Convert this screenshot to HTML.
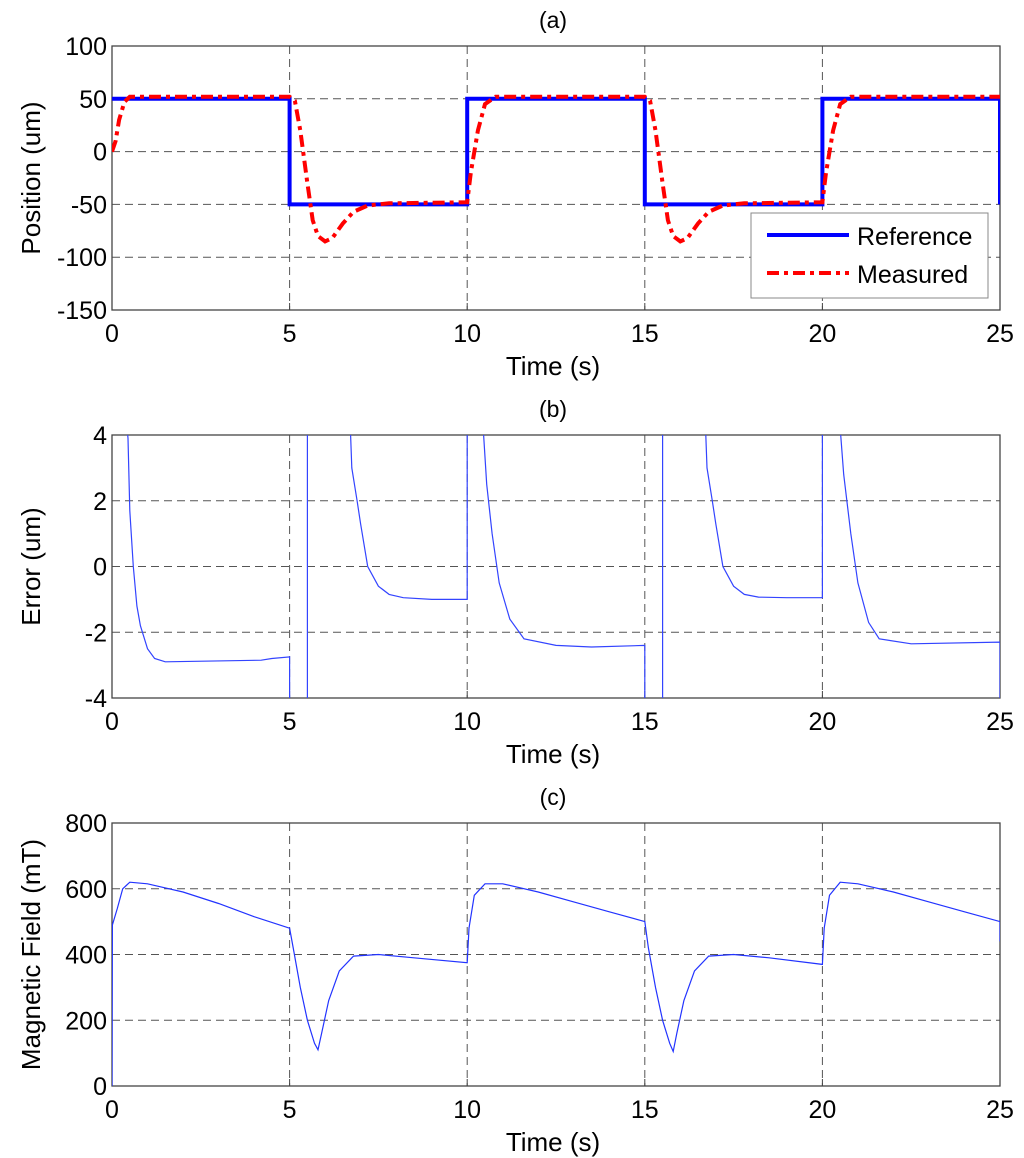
<!DOCTYPE html>
<html><head><meta charset="utf-8"><style>
body{margin:0;background:#fff;overflow:hidden;}
svg{display:block;font-family:"Liberation Sans",Arial,sans-serif;}
</style></head><body>
<svg id="fig" width="1024" height="1158" viewBox="0 0 1024 1158">
<defs>
<clipPath id="clipA"><rect x="112" y="46" width="888" height="264"/></clipPath>
<clipPath id="clipB"><rect x="112" y="435" width="888" height="263"/></clipPath>
<clipPath id="clipC"><rect x="112" y="823" width="888" height="263"/></clipPath>
</defs>
</svg>
<script>
// Panel (a) data
const refT = [0,5,5,10,10,15,15,20,20,25,25];
const refV = [50,50,-50,-50,50,50,-50,-50,50,50,-50];
const measT = [0,0.1,0.2,0.35,0.5,5.0,5.15,5.3,5.5,5.65,5.8,6.0,6.2,6.5,6.8,7.2,7.8,10.0,10.1,10.3,10.5,10.8,15.0,15.15,15.3,15.5,15.65,15.8,16.0,16.2,16.5,16.8,17.2,17.8,20.0,20.1,20.3,20.5,20.8,25];
const measV = [0,10,30,47,52,52,48,20,-30,-65,-80,-85,-82,-68,-57,-51,-49,-48,-20,20,45,52,52,48,20,-30,-65,-80,-85,-82,-68,-57,-51,-49,-48,-20,20,45,52,52];
// Panel (b) data
const errT = [0.4,0.45,0.5,0.6,0.7,0.8,1.0,1.2,1.5,4.2,4.5,5.0,5.0,5.5,5.5,6.7,6.75,6.9,7.0,7.2,7.5,7.8,8.2,9.0,10.0,10.0,10.45,10.55,10.7,10.9,11.2,11.6,12.5,13.5,15.0,15.0,15.5,15.5,16.7,16.75,16.9,17.0,17.2,17.5,17.8,18.2,19.0,20.0,20.0,20.5,20.6,20.8,21.0,21.3,21.6,22.5,25.0,25.0];
const errV = [4.5,3.9,1.7,0,-1.2,-1.8,-2.5,-2.8,-2.9,-2.85,-2.8,-2.75,-20,-20,20,4.5,3,2,1.3,0,-0.6,-0.85,-0.95,-1.0,-1.0,20,4.2,2.5,1,-0.5,-1.6,-2.2,-2.4,-2.45,-2.4,-20,-20,20,4.5,3,2,1.3,0,-0.6,-0.85,-0.93,-0.95,-0.95,20,4.2,2.8,1,-0.5,-1.7,-2.2,-2.35,-2.3,-20];
// Panel (c) data
const magT = [0,0.01,0.15,0.3,0.5,1.0,2,3,4,5.0,5.1,5.3,5.5,5.7,5.8,5.9,6.1,6.4,6.8,7.5,8.5,10,10.05,10.2,10.5,11,12,13,14,15,15.1,15.3,15.5,15.7,15.8,15.9,16.1,16.4,16.8,17.5,18.5,20,20.05,20.2,20.5,21,22,23,24,25,25];
const magV = [0,490,540,600,620,615,590,555,515,480,420,300,200,130,110,160,260,350,395,400,390,375,480,580,615,615,590,560,530,500,420,300,200,130,105,160,260,350,395,400,390,370,480,580,620,615,590,560,530,500,440];
const xTicks = [0,5,10,15,20,25];
const aTicks = [100,50,0,-50,-100,-150];
const bTicks = [4,2,0,-2,-4];
const cTicks = [800,600,400,200,0];

const NS='http://www.w3.org/2000/svg';
const svg=document.getElementById('fig');
function el(tag,attrs,parent){const e=document.createElementNS(NS,tag);for(const k in attrs)e.setAttribute(k,attrs[k]);(parent||svg).appendChild(e);return e;}
const X0=112,X1=1000;
const sx=t=>X0+(t/25)*(X1-X0);

function panel(id,top,bot,ymin,ymax,ticks,ylabel,title){
  const sy=v=>bot-(v-ymin)/(ymax-ymin)*(bot-top);
  const g=el('g',{});
  
  
  el('rect',{x:X0,y:top,width:X1-X0,height:bot-top,fill:'#fff',stroke:'none'},g);
  xTicks.forEach(t=>{ if(t>0&&t<25){const l=el('line',{x1:sx(t),x2:sx(t),y1:top,y2:bot,stroke:'#555','stroke-width':1,'stroke-dasharray':'8,5'},g);
    
    }});
  ticks.forEach(v=>{ if(v>ymin&&v<ymax){const l=el('line',{x1:X0,x2:X1,y1:sy(v),y2:sy(v),stroke:'#555','stroke-width':1,'stroke-dasharray':'8,5'},g);
    
    }});
  const box=el('rect',{x:X0,y:top,width:X1-X0,height:bot-top,fill:'none',stroke:'#444','stroke-width':1.3},g);
  
  
  xTicks.forEach(t=>{const tx=el('text',{x:sx(t),y:bot+32,'font-size':25,'text-anchor':'middle',fill:'#000'},g);tx.textContent=t;
    
    
    el('line',{x1:sx(t),x2:sx(t),y1:bot,y2:bot-7,stroke:'#444'},g);});
  ticks.forEach(v=>{const tx=el('text',{x:X0-5,y:sy(v)+9,'font-size':25,'text-anchor':'end',fill:'#000'},g);tx.textContent=v;
    
    });
  const xl=el('text',{x:553,y:bot+65,'font-size':26,'text-anchor':'middle'},g);xl.textContent='Time (s)';
  
  
  const yl=el('text',{x:0,y:0,'font-size':26,'text-anchor':'middle',transform:`translate(40,${(top+bot)/2}) rotate(-90)`},g);yl.textContent=ylabel;
  
  
  const ti=el('text',{x:553,y:top-18,'font-size':23,'text-anchor':'middle'},g);ti.textContent=title;
  
  
  return {sy,g};
}
function path(T,V,sy,attrs,clip,name){
  let d='';T.forEach((t,i)=>{d+=(i?'L':'M')+sx(t).toFixed(1)+','+sy(V[i]).toFixed(1);});
  const p=el('path',Object.assign({d,fill:'none','clip-path':'url(#'+clip+')'},attrs));
  
  
  return p;
}
const A=panel('a',46,310,-150,100,aTicks,'Position (um)','(a)');
path(refT,refV,A.sy,{stroke:'#0000ff','stroke-width':4},'clipA','reference-line');
path(measT,measV,A.sy,{stroke:'#ff0000','stroke-width':4,'stroke-dasharray':'12,5,4,5'},'clipA','measured-line');
const lg=el('g',{});


el('rect',{x:751,y:213,width:237,height:85,fill:'#fff',stroke:'#888','stroke-width':1},lg);
el('line',{x1:767,x2:849,y1:235,y2:235,stroke:'#0000ff','stroke-width':4},lg);
el('line',{x1:767,x2:849,y1:273,y2:273,stroke:'#ff0000','stroke-width':4,'stroke-dasharray':'12,5,4,5'},lg);
const l1=el('text',{x:857,y:245,'font-size':25},lg);l1.textContent='Reference';


const l2=el('text',{x:857,y:283,'font-size':25},lg);l2.textContent='Measured';



const B=panel('b',435,698,-4,4,bTicks,'Error (um)','(b)');
path(errT,errV,B.sy,{stroke:'#3344ff','stroke-width':1.2},'clipB','error-line');
const C=panel('c',823,1086,0,800,cTicks,'Magnetic Field (mT)','(c)');
path(magT,magV,C.sy,{stroke:'#2233ff','stroke-width':1.2},'clipC','magnetic-field-line');
</script>
</body></html>
